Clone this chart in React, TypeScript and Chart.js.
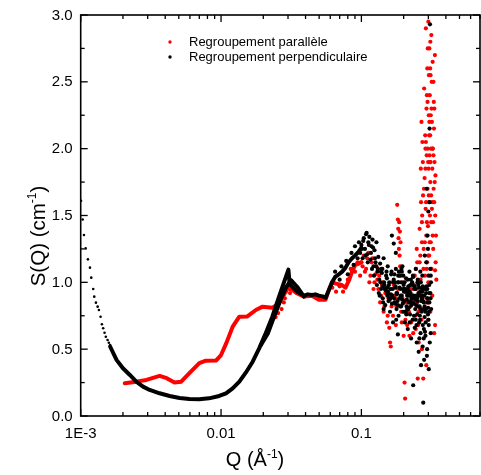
import React, { useEffect, useRef } from "react";
import { Chart, registerables } from "chart.js";
Chart.register(...registerables);

// ---- axes ----
const X_MIN = 0.001;
const X_MAX = 0.7;
const Y_MIN = 0;
const Y_MAX = 3;
const xMajorTicks = [0.001, 0.01, 0.1];
const xTickLabels = ["1E-3", "0.01", "0.1"];
const xMinorTicks = [
  0.002, 0.003, 0.004, 0.005, 0.006, 0.007, 0.008, 0.009,
  0.02, 0.03, 0.04, 0.05, 0.06, 0.07, 0.08, 0.09,
  0.2, 0.3, 0.4, 0.5, 0.6, 0.7,
];
const yMajorTicks = [0, 0.5, 1, 1.5, 2, 2.5, 3];
const yTickLabels = ["0.0", "0.5", "1.0", "1.5", "2.0", "2.5", "3.0"];
const yMinorTicks = [0.25, 0.75, 1.25, 1.75, 2.25, 2.75];
const seriesNames = ["Regroupement parallèle", "Regroupement perpendiculaire"];

// ---- black (perpendiculaire) ----
const blackLowQ = [0.001005, 0.001033, 0.001055, 0.001085, 0.001126, 0.001164, 0.001189, 0.001228, 0.001249, 0.001284, 0.00132, 0.001348, 0.001386, 0.001416, 0.001446, 0.001479, 0.00151, 0.001554, 0.001587, 0.00162];
const blackLowS = [1.61, 1.47, 1.354, 1.254, 1.172, 1.11, 1.035, 0.95, 0.893, 0.848, 0.818, 0.793, 0.743, 0.686, 0.656, 0.623, 0.593, 0.569, 0.548, 0.531];

const blackCurveQ = [0.00162, 0.0018, 0.002, 0.00224, 0.00249, 0.00278, 0.0031, 0.00365, 0.0043, 0.00506, 0.00595, 0.007, 0.0082, 0.0097, 0.01085, 0.0121, 0.0135, 0.015, 0.0168, 0.0187, 0.0208, 0.0232, 0.0259, 0.0282, 0.0302, 0.0308, 0.0325, 0.035, 0.039, 0.0415, 0.0444, 0.047, 0.0498, 0.053, 0.0556, 0.058, 0.0618, 0.065, 0.069, 0.073, 0.0771, 0.081, 0.0858, 0.09, 0.0957, 0.1];
const blackCurveS = [0.52, 0.42, 0.357, 0.307, 0.257, 0.22, 0.195, 0.17, 0.15, 0.135, 0.127, 0.125, 0.132, 0.15, 0.17, 0.207, 0.257, 0.324, 0.406, 0.506, 0.619, 0.743, 0.893, 1.005, 1.095, 0.99, 0.96, 0.93, 0.9, 0.91, 0.905, 0.91, 0.9, 0.895, 0.885, 0.93, 1.0, 1.04, 1.06, 1.08, 1.11, 1.15, 1.18, 1.2, 1.23, 1.26];

const black2Q = [0.0192, 0.0216, 0.024, 0.0271, 0.029, 0.0315, 0.0348, 0.039];
const black2S = [0.53, 0.62, 0.75, 0.89, 0.96, 1.017, 0.967, 0.893];

const blackNoiseQ = [
  0.065, 0.07, 0.072, 0.078, 0.08, 0.085, 0.088, 0.09, 0.094, 0.096,
  0.098, 0.1, 0.102, 0.104, 0.106, 0.108, 0.11, 0.112, 0.114, 0.116, 0.118, 0.12, 0.122, 0.124, 0.126, 0.128, 0.13, 0.132,
  0.134, 0.136, 0.138, 0.14, 0.142, 0.144, 0.146, 0.148, 0.15, 0.152, 0.154, 0.156, 0.158, 0.16, 0.162, 0.164, 0.165, 0.166, 0.168, 0.17,
  0.17, 0.172, 0.174, 0.176, 0.176, 0.178, 0.18, 0.182, 0.182, 0.184, 0.186, 0.188, 0.19, 0.192, 0.194, 0.196, 0.198, 0.2, 0.202, 0.204, 0.206, 0.208, 0.21, 0.212, 0.214, 0.216,
  0.218, 0.22, 0.222, 0.224, 0.226, 0.228, 0.23, 0.232, 0.234, 0.236, 0.238, 0.24, 0.242, 0.244, 0.246, 0.248, 0.25, 0.252, 0.254, 0.256, 0.258, 0.26, 0.262, 0.264, 0.266, 0.268, 0.27, 0.272, 0.274, 0.276, 0.278, 0.28, 0.282, 0.284, 0.286, 0.288, 0.29, 0.292, 0.294, 0.296, 0.298, 0.3, 0.302, 0.304, 0.306, 0.308, 0.31, 0.312, 0.314, 0.296, 0.3, 0.31, 0.306,
  0.135, 0.145, 0.155, 0.165, 0.175, 0.185, 0.195, 0.205, 0.215, 0.225, 0.235, 0.245, 0.255, 0.265, 0.275, 0.285, 0.295, 0.305, 0.139, 0.149, 0.159, 0.169, 0.179, 0.189, 0.199, 0.209, 0.219, 0.229, 0.239, 0.249, 0.259, 0.269, 0.279, 0.289, 0.299,
  0.101, 0.103, 0.107, 0.109, 0.111, 0.113, 0.117, 0.119, 0.121, 0.123, 0.125, 0.127, 0.129, 0.131, 0.133, 0.137, 0.141, 0.143, 0.147, 0.151, 0.153, 0.157, 0.161, 0.163, 0.167, 0.171, 0.173, 0.177, 0.181, 0.183, 0.187, 0.191, 0.193, 0.197, 0.201, 0.203, 0.207, 0.211, 0.213, 0.217, 0.221, 0.223, 0.227, 0.231, 0.233, 0.237, 0.241, 0.243, 0.247, 0.251, 0.253, 0.257, 0.261, 0.263, 0.267, 0.271, 0.273, 0.277, 0.281, 0.283, 0.287, 0.291, 0.293, 0.297, 0.301, 0.303, 0.307, 0.311, 0.313,
  0.142, 0.152, 0.162, 0.172, 0.182, 0.192, 0.202, 0.212, 0.222, 0.232, 0.242, 0.252, 0.262, 0.272, 0.282, 0.292, 0.302, 0.312, 0.144, 0.154, 0.164, 0.174, 0.184, 0.194, 0.204, 0.214, 0.224, 0.234, 0.244, 0.254, 0.264, 0.274, 0.284, 0.294, 0.304, 0.138, 0.158, 0.178, 0.198, 0.218, 0.238, 0.258, 0.278, 0.298,
];
const blackNoiseS = [
  1.08, 1.02, 1.12, 1.16, 1.06, 1.22, 1.13, 1.27, 1.18, 1.3,
  1.22, 1.28, 1.18, 1.33, 1.25, 1.36, 1.21, 1.3, 1.34, 1.17, 1.27, 1.32, 1.12, 1.24, 1.15, 1.3, 1.08, 1.19,
  1.02, 1.14, 0.95, 1.07, 0.88, 1.18, 0.98, 0.83, 1.05, 0.92, 1.12, 0.86, 1.0, 0.78, 0.95, 1.08, 1.35, 0.9, 0.7, 1.02,
  1.29, 0.85, 0.96, 1.1, 1.22, 0.8, 0.92, 1.0, 0.61, 0.75, 0.88, 1.05, 0.95, 0.82, 0.9, 1.12, 0.78, 0.98, 0.86, 0.7, 0.93, 1.03, 0.82, 0.9, 0.65, 0.97,
  0.85, 1.08, 0.76, 0.92, 0.58, 0.88, 1.0, 0.72, 0.23, 0.84, 0.95, 0.66, 0.8, 1.1, 0.9, 0.55, 0.76, 0.86, 0.98, 0.48, 0.7, 0.82, 0.93, 0.62, 0.38, 0.78, 0.88, 1.05, 0.68, 0.1, 0.85, 0.42, 0.74, 0.95, 0.6, 0.8, 1.15, 1.7, 0.5, 0.88, 1.25, 0.72, 0.35, 0.98, 1.6, 2.93, 0.92, 0.62, 0.8, 1.35, 1.53, 1.1, 2.15,
  0.9, 1.0, 0.93, 0.84, 0.97, 1.08, 0.87, 0.95, 0.8, 1.02, 0.9, 0.83, 0.92, 1.0, 0.86, 0.78, 0.95, 0.85, 1.1, 0.94, 0.87, 1.0, 0.91, 0.82, 1.05, 0.76, 0.93, 0.85, 0.97, 0.88, 0.58, 0.9, 0.65, 0.92, 0.81,
  1.25, 1.31, 1.2, 1.37, 1.15, 1.28, 1.22, 1.1, 1.26, 1.05, 1.18, 1.12, 0.98, 1.1, 0.92, 1.0, 1.1, 0.85, 0.95, 1.08, 0.9, 0.98, 0.88, 1.06, 0.95, 0.88, 1.0, 0.72, 0.86, 1.05, 0.96, 0.9, 1.1, 0.84, 0.93, 1.0, 0.78, 0.87, 1.02, 0.92, 0.7, 0.98, 0.83, 0.9, 1.05, 0.75, 0.88, 0.95, 0.68, 1.0, 0.82, 0.9, 0.75, 1.08, 0.86, 0.95, 0.52, 0.8, 0.9, 1.2, 0.7, 0.97, 0.45, 0.85, 1.05, 0.78, 0.55, 0.88, 1.0,
  0.97, 1.03, 0.91, 1.06, 0.83, 1.0, 0.95, 0.8, 0.9, 0.98, 0.87, 1.02, 0.72, 0.93, 0.82, 0.95, 0.68, 1.05, 0.8, 0.96, 0.9, 0.84, 1.0, 1.08, 0.78, 0.95, 0.86, 1.04, 0.72, 0.9, 0.8, 0.97, 0.63, 0.88, 0.92, 1.08, 0.88, 0.92, 0.95, 0.81, 0.89, 0.96, 0.58, 0.76,
];

// ---- red (parallèle) ----
const redCurveQ = [0.00206, 0.00249, 0.00294, 0.00365, 0.0041, 0.00466, 0.0052, 0.00595, 0.007, 0.0078, 0.0092, 0.01, 0.0109, 0.0121, 0.0135, 0.0154, 0.0177, 0.0198, 0.0232, 0.025, 0.028, 0.0295, 0.0322, 0.0347, 0.039, 0.0444, 0.0498, 0.0556, 0.058, 0.0618, 0.066, 0.0725, 0.0771, 0.082, 0.0858, 0.0903, 0.0957, 0.1];
const redCurveS = [0.245, 0.257, 0.27, 0.3, 0.283, 0.25, 0.257, 0.32, 0.395, 0.414, 0.415, 0.456, 0.545, 0.668, 0.743, 0.745, 0.793, 0.818, 0.81, 0.83, 0.905, 0.955, 0.943, 0.918, 0.893, 0.9, 0.87, 0.87, 0.93, 1.0, 0.99, 0.98, 0.96, 1.02, 1.08, 1.13, 1.14, 1.15];

const redNoiseQ = [
  0.0245, 0.0255, 0.027, 0.028, 0.0285, 0.029, 0.0305, 0.031,
  0.062, 0.066, 0.07, 0.074, 0.08, 0.084, 0.09, 0.094, 0.098,
  0.1, 0.104, 0.108, 0.112, 0.116, 0.12, 0.124, 0.128, 0.132,
  0.134, 0.136, 0.14, 0.144, 0.148, 0.152, 0.156, 0.16, 0.162, 0.164, 0.166, 0.168,
  0.18, 0.182, 0.183, 0.184, 0.185, 0.186, 0.187, 0.188, 0.189, 0.19, 0.191,
  0.172, 0.176, 0.178, 0.182, 0.192, 0.196, 0.2, 0.203, 0.205, 0.206, 0.21, 0.214,
  0.218, 0.222, 0.226, 0.23, 0.234, 0.238, 0.242, 0.245, 0.248, 0.25, 0.252, 0.254, 0.256, 0.258, 0.26, 0.262, 0.264, 0.266, 0.268, 0.27, 0.272, 0.274, 0.276,
  0.26, 0.265, 0.268, 0.27, 0.272, 0.275, 0.278, 0.28, 0.282, 0.284, 0.285, 0.287, 0.288, 0.29, 0.291, 0.292, 0.294, 0.295, 0.296, 0.297, 0.298, 0.3, 0.301, 0.302, 0.303, 0.304, 0.305, 0.306, 0.307, 0.308, 0.309, 0.31, 0.311, 0.312, 0.313, 0.314, 0.315, 0.316, 0.318, 0.32, 0.322, 0.324, 0.326, 0.328, 0.33, 0.332, 0.334, 0.336, 0.338, 0.34, 0.342,
  0.28, 0.29, 0.3, 0.31, 0.32, 0.335, 0.335, 0.33, 0.29, 0.27, 0.3,
  0.102, 0.106, 0.11, 0.114, 0.118, 0.122, 0.126, 0.13, 0.138, 0.142, 0.146, 0.15, 0.154, 0.158, 0.17, 0.174, 0.194, 0.198, 0.202, 0.208, 0.212, 0.216, 0.22, 0.224, 0.228, 0.232, 0.236, 0.24, 0.244, 0.247, 0.25, 0.255, 0.263, 0.267, 0.271, 0.277, 0.279, 0.283, 0.286, 0.289, 0.293, 0.299, 0.305, 0.31, 0.317, 0.323, 0.327, 0.331, 0.337, 0.3,
  0.288, 0.293, 0.296, 0.299, 0.302, 0.304, 0.306, 0.309, 0.311, 0.314, 0.316, 0.319, 0.321, 0.325, 0.329, 0.333, 0.297, 0.303, 0.308, 0.312, 0.318, 0.322, 0.326, 0.292, 0.286,
];
const redNoiseS = [
  0.74, 0.77, 0.8, 0.85, 0.88, 0.93, 0.98, 0.92,
  0.96, 0.93, 0.97, 0.93, 1.02, 1.1, 1.08, 1.15, 1.05,
  1.15, 1.2, 1.1, 1.22, 1.05, 1.18, 1.0, 1.12, 0.95,
  1.05, 0.85, 0.98, 0.78, 0.92, 0.7, 0.88, 0.55, 0.52, 0.82, 1.0, 0.75,
  1.58, 1.47, 1.4, 1.33, 1.25, 1.45, 1.2, 1.38, 1.12, 1.3, 1.05,
  0.9, 0.68, 0.82, 0.95, 0.78, 0.88, 0.6, 0.25, 0.13, 0.72, 0.92, 0.85,
  0.78, 0.95, 0.7, 0.88, 0.62, 0.98, 0.75, 1.1, 1.25, 0.85, 0.28, 0.68, 0.55, 0.92, 1.4, 0.8, 1.02, 1.6, 0.72, 1.3, 0.88, 1.9, 0.28,
  1.15, 1.85, 2.2, 1.45, 2.05, 1.65, 1.25, 2.45, 1.78, 1.05, 2.1, 1.55, 2.9, 1.35, 2.3, 1.95, 1.15, 2.6, 1.7, 2.0, 1.42, 2.95, 1.85, 2.25, 1.6, 1.2, 2.75, 1.95, 2.4, 1.5, 2.1, 1.75, 2.55, 1.3, 2.0, 1.65, 2.85, 1.1, 2.2, 1.85, 2.65, 1.45, 1.95, 2.35, 1.6, 1.9, 2.7, 1.5, 1.15, 1.35, 1.02,
  0.95, 0.85, 1.0, 0.78, 0.9, 0.68, 1.09, 0.62, 0.38, 0.5, 0.72,
  1.12, 1.08, 1.18, 1.0, 1.15, 0.95, 1.06, 1.02, 0.9, 1.0, 0.82, 0.96, 0.75, 0.66, 0.98, 0.88, 0.7, 1.0, 0.85, 0.78, 0.68, 0.9, 0.6, 0.82, 0.95, 0.72, 0.85, 1.05, 0.65, 0.95, 1.15, 0.78, 1.2, 0.9, 1.5, 1.1, 1.7, 1.3, 2.0, 1.6, 2.4, 1.9, 2.2, 2.8, 2.5, 2.0, 1.7, 2.3, 1.8, 0.85,
  2.05, 1.45, 2.35, 1.2, 1.65, 2.1, 1.3, 2.6, 1.9, 1.45, 2.3, 1.6, 2.0, 1.25, 2.15, 1.75, 2.75, 2.55, 1.9, 2.25, 1.55, 1.35, 2.5, 1.1, 1.85,
];

const RED = "#ff0000";
const BLACK = "#000000";
const FONT = "'Liberation Sans', Arial, sans-serif";

const zip = (qs: number[], ss: number[]) => qs.map((q, i) => ({ x: q, y: ss[i] }));

function drawRich(ctx: CanvasRenderingContext2D, parts: { t: string; sup?: boolean }[], size: number, cx: number, cy: number) {
  const supSize = Math.round(size * 0.6);
  let total = 0;
  const widths = parts.map((p) => {
    ctx.font = `${p.sup ? supSize : size}px ${FONT}`;
    const w = ctx.measureText(p.t).width;
    total += w;
    return w;
  });
  let x = cx - total / 2;
  ctx.textAlign = "left";
  ctx.textBaseline = "alphabetic";
  parts.forEach((p, i) => {
    ctx.font = `${p.sup ? supSize : size}px ${FONT}`;
    ctx.fillText(p.t, x, p.sup ? cy - size * 0.42 : cy);
    x += widths[i];
  });
}

const framePlugin = {
  id: "frame",
  afterDraw(chart: any) {
    const { ctx, chartArea: a, scales } = chart;
    const xs = scales.x;
    const ys = scales.y;
    ctx.save();
    ctx.strokeStyle = BLACK;
    ctx.fillStyle = BLACK;
    ctx.lineWidth = 1.6;
    ctx.strokeRect(a.left, a.top, a.right - a.left, a.bottom - a.top);
    ctx.lineWidth = 1.3;
    const seg = (x1: number, y1: number, x2: number, y2: number) => {
      ctx.beginPath();
      ctx.moveTo(x1, y1);
      ctx.lineTo(x2, y2);
      ctx.stroke();
    };
    const MAJ = 7;
    const MIN = 4;
    xMajorTicks.forEach((v) => {
      const p = xs.getPixelForValue(v);
      seg(p, a.bottom, p, a.bottom - MAJ);
      seg(p, a.top, p, a.top + MAJ);
    });
    xMinorTicks.forEach((v) => {
      const p = xs.getPixelForValue(v);
      seg(p, a.bottom, p, a.bottom - MIN);
      seg(p, a.top, p, a.top + MIN);
    });
    yMajorTicks.forEach((v) => {
      const p = ys.getPixelForValue(v);
      seg(a.left, p, a.left + MAJ, p);
      seg(a.right, p, a.right - MAJ, p);
    });
    yMinorTicks.forEach((v) => {
      const p = ys.getPixelForValue(v);
      seg(a.left, p, a.left + MIN, p);
      seg(a.right, p, a.right - MIN, p);
    });

    ctx.font = `15px ${FONT}`;
    ctx.textAlign = "right";
    ctx.textBaseline = "middle";
    yMajorTicks.forEach((v, i) => {
      ctx.fillText(yTickLabels[i], a.left - 8, ys.getPixelForValue(v) + 0.5);
    });
    ctx.textAlign = "center";
    ctx.textBaseline = "top";
    xMajorTicks.forEach((v, i) => {
      ctx.fillText(xTickLabels[i], xs.getPixelForValue(v), a.bottom + 10);
    });

    // axis titles
    drawRich(ctx, [{ t: "Q (Å" }, { t: "-1", sup: true }, { t: ")" }], 20, 255, 466);
    ctx.save();
    ctx.translate(45, 236);
    ctx.rotate(-Math.PI / 2);
    drawRich(ctx, [{ t: "S(Q) (cm" }, { t: "-1", sup: true }, { t: ")" }], 20.5, 0, 0);
    ctx.restore();

    // legend
    const colors = [RED, BLACK];
    ctx.font = `13px ${FONT}`;
    ctx.textAlign = "left";
    ctx.textBaseline = "middle";
    seriesNames.forEach((name, i) => {
      const y = 42 + i * 15;
      ctx.fillStyle = colors[i];
      ctx.beginPath();
      ctx.arc(170, y, 1.7, 0, Math.PI * 2);
      ctx.fill();
      ctx.fillStyle = BLACK;
      ctx.fillText(name, 189, y);
    });
    ctx.restore();
  },
};

export default function App() {
  const ref = useRef<HTMLCanvasElement | null>(null);
  useEffect(() => {
    if (!ref.current) return;
    const lineDs = (label: string, data: any[], color: string, order: number) => ({
      label,
      data,
      showLine: true,
      borderColor: color,
      backgroundColor: color,
      borderWidth: 4,
      borderJoinStyle: "round",
      borderCapStyle: "round",
      pointRadius: 0,
      tension: 0,
      order,
    });
    const dotDs = (label: string, data: any[], color: string, order: number, r: number) => ({
      label,
      data,
      showLine: false,
      borderColor: color,
      backgroundColor: color,
      borderWidth: 0,
      pointRadius: r,
      order,
    });
    const chart = new Chart(ref.current, {
      type: "scatter",
      data: {
        datasets: [
          dotDs(seriesNames[1], zip(blackLowQ, blackLowS), BLACK, 0, 1.3),
          lineDs(seriesNames[1], zip(blackCurveQ, blackCurveS), BLACK, 1),
          lineDs(seriesNames[1], zip(black2Q, black2S), BLACK, 1),
          dotDs(seriesNames[1], zip(blackNoiseQ, blackNoiseS), BLACK, 0, 2.1),
          lineDs(seriesNames[0], zip(redCurveQ, redCurveS), RED, 3),
          dotDs(seriesNames[0], zip(redNoiseQ, redNoiseS), RED, 2, 2.1),
        ],
      },
      options: {
        responsive: false,
        devicePixelRatio: 1,
        animation: false,
        layout: { padding: { left: 80.7, right: 2, top: 15, bottom: 59 } },
        plugins: { legend: { display: false }, tooltip: { enabled: false } },
        scales: {
          x: { type: "logarithmic", min: X_MIN, max: X_MAX, display: false },
          y: { type: "linear", min: Y_MIN, max: Y_MAX, display: false },
        },
      },
      plugins: [framePlugin],
    });
    return () => chart.destroy();
  }, []);
  return (
    <div style={{ position: "fixed", left: 0, top: 0, width: 481, height: 475, overflow: "hidden", background: "#fff" }}>
      <canvas ref={ref} width={484} height={475} style={{ display: "block" }} />
    </div>
  );
}
